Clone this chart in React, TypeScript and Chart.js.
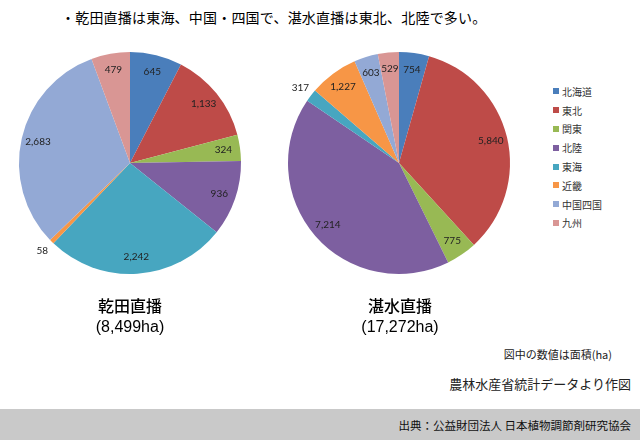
import React, { useEffect, useRef } from "react";
import { Chart, registerables } from "chart.js";

Chart.register(...registerables);

const categories = ["北海道", "東北", "関東", "北陸", "東海", "近畿", "中国四国", "九州"];
const colors = ["#4A7EBB", "#BE4B48", "#98B954", "#7D5FA0", "#47A6C0", "#F79646", "#93A9D5", "#D99694"];
const dryValues = [645, 1133, 324, 936, 2242, 58, 2683, 479];
const floodValues = [754, 5840, 775, 7214, 317, 1227, 603, 529];
const chartNames = ["乾田直播", "湛水直播"];
const chartTotals = ["(8,499ha)", "(17,272ha)"];
const titleText = "・乾田直播は東海、中国・四国で、湛水直播は東北、北陸で多い。";
const note1 = "図中の数値は面積(ha)";
const note2 = "農林水産省統計データより作図";
const sourceText = "出典：公益財団法人 日本植物調節剤研究協会";

const CJK = '"Noto Sans CJK JP", "Noto Sans", sans-serif';

const labelPlugin = {
  id: "sliceLabels",
  afterDatasetsDraw(chart: any) {
    const ctx = chart.ctx;
    const ds = chart.data.datasets[0];
    const total = ds.data.reduce((a: number, b: number) => a + b, 0);
    const meta = chart.getDatasetMeta(0);
    ctx.save();
    ctx.font = '10px Lato, "Liberation Sans", sans-serif';
    ctx.textAlign = "center";
    ctx.textBaseline = "middle";
    meta.data.forEach((arc: any, i: number) => {
      const p = arc.getProps(["x", "y", "startAngle", "endAngle", "outerRadius"], true);
      const mid = (p.startAngle + p.endAngle) / 2;
      const v = ds.data[i];
      const small = v / total < 0.025;
      const r = small ? p.outerRadius * 1.12 : p.outerRadius * 0.85;
      const lx = p.x + Math.cos(mid) * r;
      const ly = p.y + Math.sin(mid) * r;
      ctx.fillStyle = "#222";
      ctx.fillText(v.toLocaleString("en-US"), lx, ly);
    });
    ctx.restore();
  },
};

function Pie({ values, left, top }: { values: number[]; left: number; top: number }) {
  const ref = useRef<HTMLCanvasElement>(null);
  useEffect(() => {
    if (!ref.current) return;
    const chart = new Chart(ref.current, {
      type: "pie",
      data: {
        labels: categories,
        datasets: [{ data: values, backgroundColor: colors, borderWidth: 0 }],
      },
      options: {
        responsive: false,
        animation: false,
        layout: { padding: 24 },
        plugins: { legend: { display: false }, tooltip: { enabled: false } },
      },
      plugins: [labelPlugin],
    });
    return () => chart.destroy();
  }, []);
  return (
    <canvas
      ref={ref}
      width={270}
      height={270}
      style={{ position: "absolute", left, top, width: 270, height: 270 }}
    />
  );
}

export default function App() {
  return (
    <div
      style={{
        position: "fixed",
        left: 0,
        top: 0,
        width: 640,
        height: 440,
        background: "#fff",
        overflow: "hidden",
        fontFamily: CJK,
      }}
    >
      <div style={{ position: "absolute", left: 61, top: 7, fontSize: 14, color: "#000", whiteSpace: "nowrap", lineHeight: "20px", letterSpacing: 0.2 }}>
        {titleText}
      </div>
      <Pie values={dryValues} left={130 - 135} top={163 - 135} />
      <Pie values={floodValues} left={399 - 135} top={163 - 135} />
      <div style={{ position: "absolute", left: 548, top: 82 }}>
        {categories.map((c, i) => (
          <div key={c} style={{ display: "flex", alignItems: "center", height: 18.8, fontSize: 10, color: "#333" }}>
            <span style={{ display: "inline-block", width: 6, height: 6, background: colors[i], marginRight: 3, marginLeft: 5 }} />
            {c}
          </div>
        ))}
      </div>
      {[130, 400].map((cx, i) => (
        <div
          key={i}
          style={{ position: "absolute", left: cx - 80, width: 160, top: 295, textAlign: "center", fontSize: 16, lineHeight: "21px", color: "#000" }}
        >
          <div style={{ fontFamily: CJK, fontWeight: 500 }}>{chartNames[i]}</div>
          <div style={{ fontFamily: '"Liberation Sans", Arial, sans-serif' }}>{chartTotals[i]}</div>
        </div>
      ))}
      <div style={{ position: "absolute", right: 28, top: 346, fontSize: 11, color: "#222", whiteSpace: "nowrap" }}>{note1}</div>
      <div style={{ position: "absolute", right: 9, top: 374, fontSize: 13, color: "#222", whiteSpace: "nowrap" }}>{note2}</div>
      <div style={{ position: "absolute", left: 0, top: 409, width: 640, height: 31, background: "#C9C9C9" }} />
      <div style={{ position: "absolute", right: 9, top: 416, fontSize: 11.5, color: "#111", whiteSpace: "nowrap", lineHeight: "18px" }}>
        {sourceText}
      </div>
    </div>
  );
}
